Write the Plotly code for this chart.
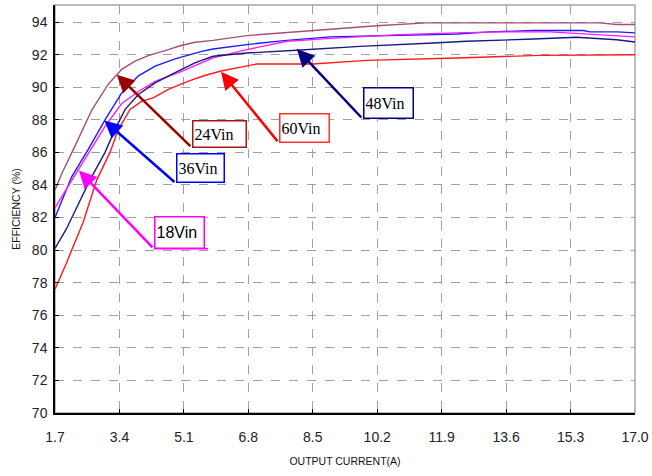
import plotly.graph_objects as go

# ---- data ----
x_24 = [1.7, 1.88, 2.23, 2.67, 3.11, 3.46, 3.81, 4.16, 4.69, 5.0, 5.39, 5.87, 6.76, 7.64, 8.95, 10.19, 11.5, 13.44, 16.08, 16.5, 17.0]
y_24 = [83.7, 84.7, 86.4, 88.6, 90.2, 91.1, 91.6, 91.94, 92.31, 92.55, 92.76, 92.88, 93.17, 93.33, 93.58, 93.78, 93.95, 93.95, 93.95, 93.85, 93.85]

x_36 = [1.7, 2.14, 2.58, 3.02, 3.46, 3.9, 4.34, 4.87, 5.57, 5.87, 6.76, 7.82, 8.95, 10.19, 12.3, 13.18, 14.32, 15.64, 15.81, 16.52, 17.0]
y_36 = [82.0, 84.5, 86.2, 88.0, 89.65, 90.7, 91.3, 91.74, 92.2, 92.35, 92.62, 92.88, 93.09, 93.17, 93.27, 93.4, 93.48, 93.48, 93.4, 93.4, 93.34]

x_18 = [1.7, 2.32, 2.49, 3.02, 3.46, 3.9, 4.34, 5.04, 5.57, 5.87, 6.76, 7.82, 8.95, 10.8, 12.3, 13.44, 14.76, 15.2, 16.08, 17.0]
y_18 = [82.6, 84.9, 85.6, 87.6, 89.0, 89.74, 90.36, 90.97, 91.49, 91.8, 92.31, 92.82, 93.0, 93.23, 93.34, 93.4, 93.4, 93.34, 93.23, 93.09]

x_48 = [1.7, 2.0, 2.62, 3.02, 3.28, 3.55, 3.9, 4.34, 4.87, 5.39, 5.87, 6.76, 8.07, 8.95, 9.75, 11.68, 12.56, 14.32, 15.46, 16.52, 17.0]
y_48 = [80.1, 81.3, 84.3, 86.0, 87.4, 88.64, 89.56, 90.27, 90.9, 91.5, 91.9, 92.1, 92.27, 92.41, 92.51, 92.72, 92.82, 92.96, 93.07, 92.92, 92.78]

x_60 = [1.7, 2.0, 2.44, 2.8, 3.15, 3.37, 3.68, 3.99, 4.29, 4.69, 5.22, 5.61, 6.05, 7.02, 8.5, 9.92, 12.3, 14.5, 17.0]
y_60 = [77.6, 79.2, 81.7, 84.3, 86.0, 87.4, 88.64, 89.15, 89.35, 89.87, 90.38, 90.69, 90.98, 91.43, 91.43, 91.65, 91.8, 91.96, 92.0]

x_ticks = [1.7, 3.4, 5.1, 6.8, 8.5, 10.2, 11.9, 13.6, 15.3, 17.0]
x_tick_labels = ["1.7", "3.4", "5.1", "6.8", "8.5", "10.2", "11.9", "13.6", "15.3", "17.0"]
y_ticks = [70, 72, 74, 76, 78, 80, 82, 84, 86, 88, 90, 92, 94]

# label: (text, head x, head y, box-corner x, box-corner y, arrow colour, border colour, font, box w, box h)
labels = [
    ("24Vin", 3.33, 90.77, 5.31, 86.3, "#990000", "#a01818", "Liberation Serif", 50, 23),
    ("36Vin", 3.0, 87.96, 4.89, 84.1, "#0000ff", "#0000ff", "Liberation Serif", 44, 25),
    ("18Vin", 2.33, 84.89, 4.31, 80.08, "#ff00ff", "#ff00ff", "Liberation Sans", 46, 28),
    ("60Vin", 6.08, 90.95, 7.6, 86.6, "#ff0000", "#ff3030", "Liberation Serif", 46, 25),
    ("48Vin", 8.08, 92.35, 9.82, 88.05, "#000080", "#000080", "Liberation Serif", 46, 27),
]

series = [
    ("24Vin", x_24, y_24, "#a3507a"),
    ("36Vin", x_36, y_36, "#1a1aff"),
    ("18Vin", x_18, y_18, "#ff1aff"),
    ("48Vin", x_48, y_48, "#1a1a80"),
    ("60Vin", x_60, y_60, "#ff1a1a"),
]

fig = go.Figure()
for name, xs, ys, col in series:
    fig.add_trace(go.Scatter(x=xs, y=ys, mode="lines", name=name,
                             line=dict(color=col, width=1.4)))

for text, hx, hy, bx, by, acol, bcol, fam, w, h in labels:
    # arrow
    fig.add_annotation(x=hx, y=hy, ax=bx, ay=by, xref="x", yref="y",
                       axref="x", ayref="y", text="", showarrow=True,
                       arrowhead=2, arrowsize=1.4, arrowwidth=2.5, arrowcolor=acol,
                       standoff=0, startstandoff=0)
    # boxed text
    fig.add_annotation(x=bx, y=by, xref="x", yref="y", text=text, showarrow=False,
                       xanchor="left", yanchor="bottom", align="left", valign="middle",
                       font=dict(family=fam, size=16, color="#000000"),
                       bordercolor=bcol, borderwidth=1.5, borderpad=1,
                       bgcolor="#ffffff", width=w, height=h)

# underline extension for 18Vin box
fig.add_shape(type="line", xref="x", yref="y", x0=4.31, y0=80.08, x1=5.74, y1=80.08,
              line=dict(color="#ff00ff", width=1.5))

# gray frame (top / right)
fig.add_shape(type="rect", xref="paper", yref="paper", x0=0, y0=0, x1=1, y1=1,
              line=dict(color="#a8a8a8", width=1.5), layer="below")

fig.update_layout(
    width=652, height=476,
    margin=dict(l=55, r=17, t=5, b=63),
    paper_bgcolor="white", plot_bgcolor="white",
    showlegend=False,
    font=dict(family="Liberation Sans", color="#222222"),
)
fig.update_xaxes(
    range=[1.7, 17.0], tickvals=x_ticks, ticktext=x_tick_labels,
    showgrid=True, gridcolor="#a0a0a0", griddash="dash", gridwidth=1,
    showline=True, linecolor="#000000", linewidth=1.5,
    ticks="inside", ticklen=4, tickcolor="#000000",
    tickfont=dict(size=14, color="#222222"), ticklabelstandoff=10,
    title=dict(text="OUTPUT CURRENT(A)", font=dict(size=10.5, color="#111111"), standoff=14),
    zeroline=False, automargin=False,
)
fig.update_yaxes(
    range=[70, 95.05], tickvals=y_ticks,
    showgrid=True, gridcolor="#a0a0a0", griddash="dash", gridwidth=1,
    showline=True, linecolor="#000000", linewidth=1.5,
    ticks="inside", ticklen=4, tickcolor="#000000",
    tickfont=dict(size=14, color="#222222"), ticklabelstandoff=3,
    title=dict(text="EFFICIENCY (%)", font=dict(size=10.5, color="#111111"), standoff=9),
    zeroline=False, automargin=False,
)

fig.write_html("out.html", config={"displayModeBar": False},
               post_script="document.body.style.margin='0';")
